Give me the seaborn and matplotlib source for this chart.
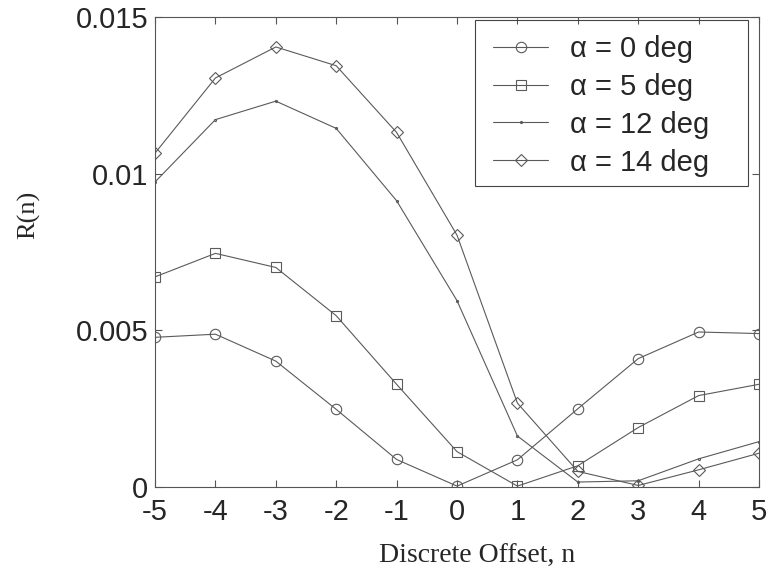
import matplotlib
matplotlib.use("Agg")
import matplotlib.pyplot as plt
from matplotlib.patches import Rectangle
import seaborn as sns
import pandas as pd

offsets = [-5, -4, -3, -2, -1, 0, 1, 2, 3, 4, 5]
r_a0 = [0.00478, 0.00488, 0.00402, 0.00248, 0.00088, 0.00003, 0.00087, 0.00250, 0.00410, 0.00495, 0.00490]
r_a5 = [0.00671, 0.00746, 0.00701, 0.00547, 0.00328, 0.00113, 0.00003, 0.00068, 0.00190, 0.00292, 0.00328]
r_a12 = [0.00974, 0.01173, 0.01232, 0.01145, 0.00914, 0.00595, 0.00163, 0.00016, 0.00020, 0.00090, 0.00145]
r_a14 = [0.01066, 0.01306, 0.01405, 0.01345, 0.01132, 0.00804, 0.00268, 0.00050, 0.00005, 0.00055, 0.00108]
labels = ["α = 0 deg", "α = 5 deg", "α = 12 deg", "α = 14 deg"]
ticks_x = [-5, -4, -3, -2, -1, 0, 1, 2, 3, 4, 5]
ticks_y = [0, 0.005, 0.01, 0.015]
tick_y_labels = ["0", "0.005", "0.01", "0.015"]

sns.set_style("white")
plt.rcParams['font.family'] = ['Liberation Sans', 'DejaVu Sans']

fig = plt.figure(figsize=(7.69, 5.73), dpi=100)
ax = fig.add_axes([0.2016, 0.150, 0.7854, 0.820])

series = [r_a0, r_a5, r_a12, r_a14]
markers = ["o", "s", ".", "D"]
msizes = [7.5, 7.5, 3, 6.5]
col = "#5a5a5a"
for vals, lab, m, ms in zip(series, labels, markers, msizes):
    df = pd.DataFrame({"n": offsets, "R": vals})
    sns.lineplot(data=df, x="n", y="R", ax=ax, color=col, linewidth=0.8,
                 marker=m, markersize=ms, markerfacecolor="none",
                 markeredgecolor=col, markeredgewidth=0.8, label=lab)

ax.set_xlim(-5, 5)
ax.set_ylim(0, 0.015)
ax.set_xticks(ticks_x)
ax.set_xticklabels([str(t) for t in ticks_x])
ax.set_yticks(ticks_y)
ax.set_yticklabels(tick_y_labels)
ax.tick_params(direction="in", length=5, width=0.8, labelsize=21, color="#555555",
               top=True, right=True, bottom=True, left=True, pad=5)
ax.tick_params(axis="x", pad=8)
for s in ax.spines.values():
    s.set_color("#555555")
    s.set_linewidth(0.8)

ax.set_xlabel("Discrete Offset, n", fontsize=20, family="Liberation Serif")
ax.set_ylabel("R(n)", fontsize=19, family="Liberation Serif")
ax.xaxis.set_label_coords(0.533, -0.122)
ax.yaxis.set_label_coords(-0.19, 0.58)

leg = ax.legend(loc="upper left", bbox_to_anchor=(0.545, 0.981), fontsize=21,
                frameon=False, handlelength=1.9, borderpad=0.3,
                labelspacing=0.34, handletextpad=0.75, borderaxespad=0.0)

# frame around legend, extended on the right like the reference
fig.canvas.draw()
ext = leg.get_window_extent(fig.canvas.get_renderer())
W, H = fig.bbox.width, fig.bbox.height
x0 = (ext.x0 - 9) / W
x1 = (ext.x1 + 30) / W
y0 = (ext.y0 - 1) / H
y1 = (ext.y1 + 6) / H
fig.add_artist(Rectangle((x0, y0), x1 - x0, y1 - y0, transform=fig.transFigure,
                         fill=False, edgecolor="#444444", linewidth=0.8))

fig.savefig("out.png", dpi=100)
